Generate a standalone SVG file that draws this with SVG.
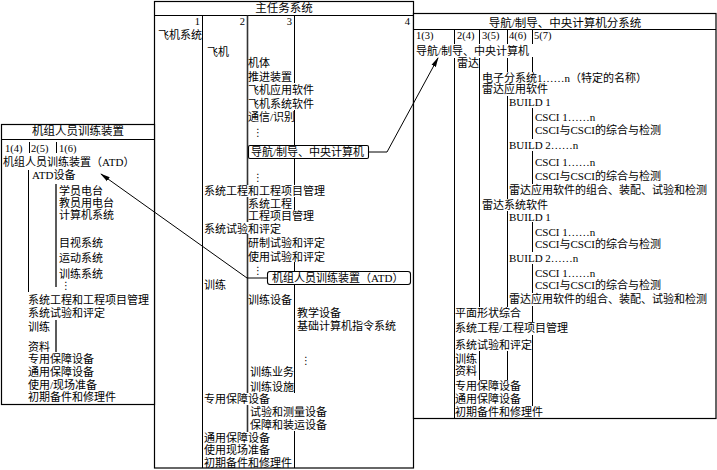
<svg xmlns="http://www.w3.org/2000/svg" width="717" height="470" viewBox="0 0 717 470">
<style>
.t{font-family:"Liberation Serif","Noto Sans CJK SC",serif;font-size:11px;fill:#000}
.h{font-family:"Liberation Serif","Noto Sans CJK SC",serif;font-size:10.5px;fill:#000}
.ti{font-family:"Liberation Serif","Noto Sans CJK SC",serif;font-size:11.5px;fill:#000;text-anchor:middle}
.d{font-family:"DejaVu Sans",sans-serif;font-size:10px;fill:#000}
.e{text-anchor:end}
.ln{stroke:#000;stroke-width:1;fill:none}
.lt{stroke:#333;stroke-width:1.6;fill:none}
.frame{stroke:#000;stroke-width:1.2;fill:#fff}
.lbl{stroke:#000;stroke-width:1.1;fill:#fff}
.cn{stroke:#000;stroke-width:1;fill:none}
</style>
<defs>
<marker id="arr" markerUnits="userSpaceOnUse" markerWidth="10" markerHeight="6" refX="9" refY="3" orient="auto">
<path d="M0,0.6 L10,3 L0,5.4 z" fill="#000"/>
</marker>
</defs>

<g id="main-system">
<rect class="frame" x="154.5" y="1.5" width="259" height="466.5"/>
<line class="ln" x1="154.5" y1="15.5" x2="413.5" y2="15.5"/>
<text class="ti" x="284" y="12">主任务系统</text>
<text class="h e" x="200" y="25">1</text>
<text class="h e" x="245" y="25">2</text>
<text class="h e" x="292" y="25">3</text>
<text class="h e" x="410" y="25">4</text>
<path class="ln" d="M202.5,15.5V468"/>
<path class="lt" d="M247.5,15.5V185M247.5,197V222M247.5,234V393M247.5,405V432"/>
<path class="ln" d="M294.5,15.5V83M294.5,110V145M294.5,158V185M294.5,197V210M294.5,262V271M294.5,285V393M294.5,431V468"/>
<text class="t" x="158" y="39">飞机系统</text>
<text class="t" x="207" y="56">飞机</text>
<text class="t" x="248" y="67">机体</text>
<text class="t" x="248" y="81">推进装置</text>
<text class="t" x="248" y="94">飞机应用软件</text>
<text class="t" x="248" y="108">飞机系统软件</text>
<text class="t" x="248" y="121">通信/识别</text>
<text class="d" x="253" y="136">⋮</text>
<text class="d" x="253" y="181">⋮</text>
<text class="t" x="204" y="195">系统工程和工程项目管理</text>
<text class="t" x="248" y="208">系统工程</text>
<text class="t" x="248" y="220">工程项目管理</text>
<text class="t" x="204" y="233">系统试验和评定</text>
<text class="t" x="248" y="247">研制试验和评定</text>
<text class="t" x="248" y="261">使用试验和评定</text>
<text class="d" x="253" y="274">⋮</text>
<text class="t" x="204" y="289">训练</text>
<text class="t" x="248" y="304">训练设备</text>
<text class="t" x="297" y="317">教学设备</text>
<text class="t" x="297" y="330">基础计算机指令系统</text>
<text class="d" x="301" y="364">⋮</text>
<text class="t" x="250" y="376">训练业务</text>
<text class="t" x="250" y="391">训练设施</text>
<text class="t" x="204" y="403">专用保障设备</text>
<text class="t" x="250" y="416">试验和测量设备</text>
<text class="t" x="250" y="429">保障和装运设备</text>
<text class="t" x="204" y="442">通用保障设备</text>
<text class="t" x="204" y="454">使用现场准备</text>
<text class="t" x="204" y="467">初期备件和修理件</text>
</g>

<g id="main-nav-label">
<rect class="lbl" x="248.5" y="145.5" width="120" height="13" rx="1.5"/>
<text class="t" x="251" y="156">导航/制导、中央计算机</text>
</g>

<g id="main-atd-label">
<rect class="lbl" x="267.5" y="271.5" width="143" height="13" rx="2.5"/>
<text class="t" x="272" y="282">机组人员训练装置（ATD）</text>
</g>

<g id="nav-subsystem">
<rect class="frame" x="413.5" y="13.5" width="302.5" height="405"/>
<line class="ln" x1="413.5" y1="29.5" x2="716" y2="29.5"/>
<text class="ti" x="565" y="27">导航/制导、中央计算机分系统</text>
<text class="h" x="416" y="39">1(3)</text>
<text class="h" x="457" y="39">2(4)</text>
<text class="h" x="482" y="39">3(5)</text>
<text class="h" x="509" y="39">4(6)</text>
<text class="h" x="534" y="39">5(7)</text>
<path class="ln" d="M454.5,29.5V44M454.5,58V418"/>
<path class="ln" d="M479.5,29.5V44M479.5,58V307M479.5,351V380"/>
<path class="ln" d="M507.5,29.5V44M507.5,58V72M507.5,96V199M507.5,211V307M507.5,351V380"/>
<path class="ln" d="M532.5,29.5V44M532.5,57V72M532.5,108V139M532.5,151V184M532.5,222V252M532.5,264V293M532.5,306V322M532.5,335V406"/>
<text class="t" x="416" y="55">导航/制导、中央计算机</text>
<text class="t" x="457" y="67">雷达</text>
<text class="t" x="482" y="82">电子分系统1……n（特定的名称）</text>
<text class="t" x="482" y="93">雷达应用软件</text>
<text class="t" x="509" y="106">BUILD 1</text>
<text class="t" x="535" y="121">CSCI 1……n</text>
<text class="t" x="535" y="134">CSCI与CSCI的综合与检测</text>
<text class="t" x="509" y="149">BUILD 2……n</text>
<text class="t" x="535" y="166">CSCI 1……n</text>
<text class="t" x="535" y="180">CSCI与CSCI的综合与检测</text>
<text class="t" x="509" y="194">雷达应用软件的组合、装配、试验和检测</text>
<text class="t" x="482" y="209">雷达系统软件</text>
<text class="t" x="509" y="221">BUILD 1</text>
<text class="t" x="535" y="236">CSCI 1……n</text>
<text class="t" x="535" y="248">CSCI与CSCI的综合与检测</text>
<text class="t" x="509" y="262">BUILD 2……n</text>
<text class="t" x="535" y="277">CSCI 1……n</text>
<text class="t" x="535" y="289">CSCI与CSCI的综合与检测</text>
<text class="t" x="509" y="303">雷达应用软件的组合、装配、试验和检测</text>
<text class="t" x="455" y="317">平面形状综合</text>
<text class="t" x="455" y="332">系统工程/工程项目管理</text>
<text class="t" x="455" y="349">系统试验和评定</text>
<text class="t" x="455" y="363">训练</text>
<text class="t" x="455" y="375">资料</text>
<text class="t" x="455" y="390">专用保障设备</text>
<text class="t" x="455" y="403">通用保障设备</text>
<text class="t" x="455" y="416">初期备件和修理件</text>
</g>

<g id="atd-device">
<rect class="frame" x="1.5" y="124.5" width="153" height="280"/>
<line class="ln" x1="1.5" y1="139.5" x2="154.5" y2="139.5"/>
<text class="ti" x="78" y="135">机组人员训练装置</text>
<text class="h" x="5" y="152">1(4)</text>
<text class="h" x="31" y="152">2(5)</text>
<text class="h" x="59" y="152">1(6)</text>
<path class="ln" d="M29.5,142V153M56.5,142V153"/>
<path class="ln" d="M28.5,170V292"/>
<path class="lt" d="M56,184V287M56,320V352"/>
<text class="t" x="3" y="166">机组人员训练装置（ATD）</text>
<text class="t" x="32" y="179">ATD设备</text>
<text class="t" x="59" y="195">学员电台</text>
<text class="t" x="59" y="207">教员用电台</text>
<text class="t" x="59" y="219">计算机系统</text>
<text class="t" x="59" y="247">目视系统</text>
<text class="t" x="59" y="262">运动系统</text>
<text class="t" x="59" y="278">训练系统</text>
<text class="d" x="61" y="289">⋮</text>
<text class="t" x="28" y="304">系统工程和工程项目管理</text>
<text class="t" x="28" y="317">系统试验和评定</text>
<text class="t" x="28" y="331">训练</text>
<text class="t" x="28" y="351">资料</text>
<text class="t" x="28" y="363">专用保障设备</text>
<text class="t" x="28" y="376">通用保障设备</text>
<text class="t" x="28" y="389">使用/现场准备</text>
<text class="t" x="28" y="401">初期备件和修理件</text>
</g>

<g id="connectors">
<polyline class="cn" points="368.5,152 387,152 438,58" marker-end="url(#arr)"/>
<polyline class="cn" points="267.5,278 247,278 101,174" marker-end="url(#arr)"/>
</g>
</svg>
